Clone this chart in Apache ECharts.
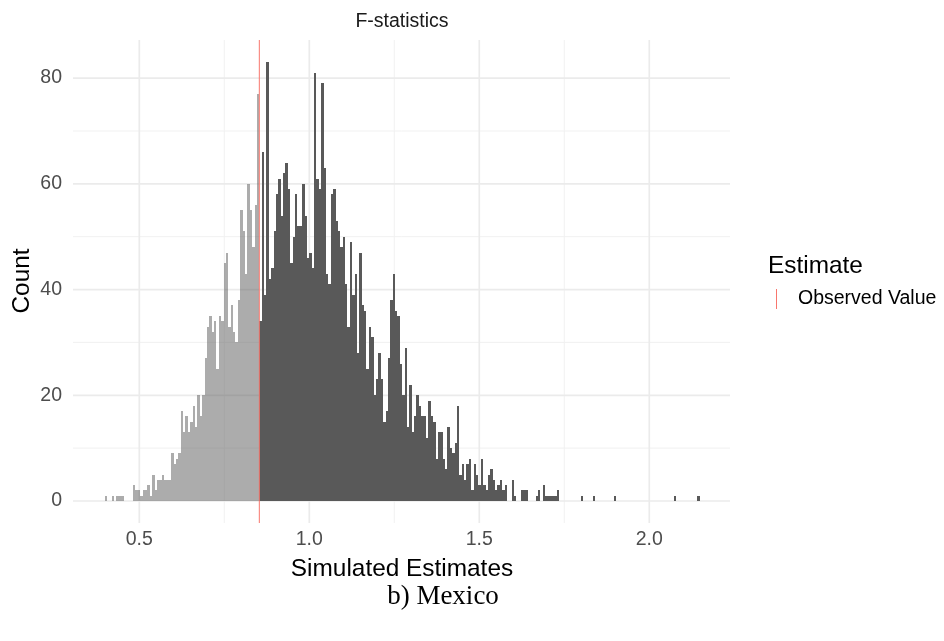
<!DOCTYPE html>
<html>
<head>
<meta charset="utf-8">
<script src="https://cdn.jsdelivr.net/npm/echarts@6/dist/echarts.min.js"></script>
<style>
  html, body { margin: 0; padding: 0; background: #fff; }
  #main { width: 944px; height: 641px; }
</style>
</head>
<body>
<div id="main"></div>
<script>
// histogram: 250 equal bins, counts
const binStart = 0.3977;
const binWidth = 0.007004;
const counts = [
  1, 0, 0, 1, 0, 1, 1, 1, 0, 0, 0, 0,
  3, 2, 2, 1, 2, 2, 3, 1,
  5, 2, 4, 4, 5, 4, 4, 4, 9, 7,
  8, 9, 17, 13, 16, 13, 15, 18, 14, 20,
  16, 20, 27, 33, 35, 32, 34, 25, 35, 34,
  45, 47, 33, 37, 32, 30, 38, 55, 51, 43,
  60, 55, 48, 56, 77, 34, 66, 39, 83, 42,
  44, 51, 58, 61, 54, 62, 64, 59, 45, 50,
  58, 52, 52, 60, 54, 46, 47, 44, 81, 61,
  59, 79, 63, 43, 41, 58, 59, 53, 51, 48,
  50, 41, 33, 49, 39, 43, 28, 47, 37, 36,
  25, 33, 31, 20, 23, 28, 23, 15, 17, 27,
  38, 43, 36, 35, 26, 20, 29, 14, 22, 13,
  16, 20, 18, 16, 16, 12, 19, 16, 15, 8,
  13, 13, 8, 6, 14, 10, 9, 11, 18, 5,
  7, 4, 7, 8, 2, 7, 5, 3, 8, 3,
  2, 5, 6, 4, 2, 3, 4, 2, 3, 0,
  0, 4, 1, 0, 0, 2, 2, 2, 0, 0,
  0, 1, 2, 0, 3, 1, 1, 1, 1, 1,
  2, 0, 0, 0, 0, 0, 0, 0, 0, 0,
  1, 0, 0, 0, 0, 1, 0, 0, 0, 0,
  0, 0, 0, 0, 1, 0, 0, 0, 0, 0,
  0, 0, 0, 0, 0, 0, 0, 0, 0, 0,
  0, 0, 0, 0, 0, 0, 0, 0, 0, 1,
  0, 0, 0, 0, 0, 0, 0, 0, 0, 1
];
const observedValue = 0.853;
const xTicks = [0.5, 1.0, 1.5, 2.0];
const xMinorTicks = [0.75, 1.25, 1.75];
const yTicks = [0, 20, 40, 60, 80];
const yMinorTicks = [10, 30, 50, 70];

// [lower edge, upper edge, count]
const bins = counts.map((c, i) => {
  const lo = binStart + i * binWidth;
  return [lo, lo + binWidth, c];
});

// grid lines: [value, horizontal?, major?]
const gridLines = [
  ...xMinorTicks.map(v => [v, 0, 0]),
  ...yMinorTicks.map(v => [v, 1, 0]),
  ...xTicks.map(v => [v, 0, 1]),
  ...yTicks.map(v => [v, 1, 1])
];

const chart = echarts.init(document.getElementById("main"));

const FONT = "Liberation Sans, Arial, sans-serif";

const option = {
  animation: false,
  backgroundColor: "#fff",
  grid: { left: 73, right: 214, top: 40, bottom: 118, containLabel: false },
  xAxis: {
    type: "value",
    min: 0.305,
    max: 2.2374,
    axisLine: { show: false },
    axisTick: { show: false },
    splitLine: { show: false },
    axisLabel: {
      customValues: xTicks,
      formatter: v => v.toFixed(1),
      color: "#4D4D4D",
      fontSize: 19.5,
      fontFamily: FONT,
      margin: 7
    }
  },
  yAxis: {
    type: "value",
    min: -4.16,
    max: 87.21,
    axisLine: { show: false },
    axisTick: { show: false },
    splitLine: { show: false },
    axisLabel: {
      customValues: yTicks,
      color: "#4D4D4D",
      fontSize: 19.5,
      fontFamily: FONT,
      margin: 11
    }
  },
  series: [
    {
      // panel grid lines, under the bars
      type: "custom",
      z: 1,
      silent: true,
      data: gridLines,
      renderItem: (params, api) => {
        const cs = params.coordSys;
        const v = api.value(0);
        const horiz = api.value(1) === 1;
        const major = api.value(2) === 1;
        let shape;
        if (horiz) {
          const y = api.coord([0.5, v])[1];
          shape = { x1: cs.x, y1: y, x2: cs.x + cs.width, y2: y };
        } else {
          const x = api.coord([v, 0])[0];
          shape = { x1: x, y1: cs.y, x2: x, y2: cs.y + cs.height };
        }
        return {
          type: "line",
          shape: shape,
          style: { stroke: major ? "#EBEBEB" : "#F1F1F1", lineWidth: major ? 1.7 : 1 }
        };
      }
    },
    {
      // histogram bars: light (semi transparent) below observed value, dark above
      type: "custom",
      z: 2,
      data: bins,
      renderItem: (params, api) => {
        if (api.value(2) <= 0) return null;
        const p0 = api.coord([api.value(0), 0]);
        const p1 = api.coord([api.value(1), api.value(2)]);
        // snap edges to whole pixels so neighbouring bars meet without seams
        const x0 = Math.round(p0[0]);
        const x1 = Math.round(p1[0]);
        const yb = Math.round(p0[1]);
        const yt = Math.round(p1[1]);
        const below = (api.value(0) + api.value(1)) / 2 < observedValue;
        return {
          type: "rect",
          shape: { x: x0, y: yt, width: x1 - x0, height: yb - yt },
          style: { fill: below ? "rgba(89,89,89,0.5)" : "#595959" }
        };
      }
    },
    {
      // observed value
      type: "custom",
      z: 3,
      silent: true,
      data: [[observedValue, 0]],
      renderItem: (params, api) => {
        const cs = params.coordSys;
        const x = api.coord([api.value(0), 0])[0];
        return {
          type: "line",
          shape: { x1: x, y1: cs.y, x2: x, y2: cs.y + cs.height },
          style: { stroke: "#F8766D", lineWidth: 1 }
        };
      }
    }
  ],
  graphic: [
    {
      type: "text", x: 402, y: 22,
      style: { text: "F-statistics", font: "19.5px " + FONT, fill: "#1A1A1A",
               align: "center", verticalAlign: "middle", textAlign: "center", textVerticalAlign: "middle" }
    },
    {
      type: "text", x: 402, y: 569,
      style: { text: "Simulated Estimates", font: "24.4px " + FONT, fill: "#000",
               align: "center", verticalAlign: "middle", textAlign: "center", textVerticalAlign: "middle" }
    },
    {
      type: "text", x: 22, y: 281, rotation: Math.PI / 2,
      style: { text: "Count", font: "24.4px " + FONT, fill: "#000",
               align: "center", verticalAlign: "middle", textAlign: "center", textVerticalAlign: "middle" }
    },
    {
      type: "text", x: 768, y: 266,
      style: { text: "Estimate", font: "24.4px " + FONT, fill: "#000",
               align: "left", verticalAlign: "middle", textAlign: "left", textVerticalAlign: "middle" }
    },
    {
      type: "line",
      shape: { x1: 776.5, y1: 289, x2: 776.5, y2: 309 },
      style: { stroke: "#F8766D", lineWidth: 1 }
    },
    {
      type: "text", x: 798, y: 299,
      style: { text: "Observed Value", font: "19.5px " + FONT, fill: "#000",
               align: "left", verticalAlign: "middle", textAlign: "left", textVerticalAlign: "middle" }
    },
    {
      type: "text", x: 443, y: 597,
      style: { text: "b) Mexico", font: "27px 'Liberation Serif', 'DejaVu Serif', serif", fill: "#000",
               align: "center", verticalAlign: "middle", textAlign: "center", textVerticalAlign: "middle" }
    }
  ]
};

chart.setOption(option);
</script>
</body>
</html>
